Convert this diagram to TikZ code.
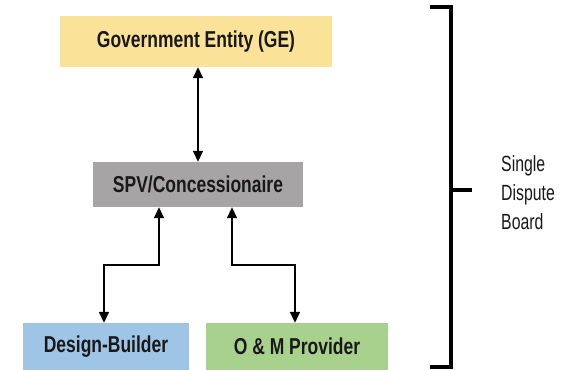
\documentclass[tikz,border=0pt]{standalone}
\usepackage{fontspec}
\usetikzlibrary{arrows.meta}
\newfontfamily\narrowbold[FakeStretch=0.76]{Liberation Sans Bold}
\newfontfamily\narrowreg[FakeStretch=0.72]{Liberation Sans}
\definecolor{geyellow}{RGB}{250,226,152}
\definecolor{spvgray}{RGB}{166,164,164}
\definecolor{dbblue}{RGB}{158,196,230}
\definecolor{omgreen}{RGB}{169,209,142}
\begin{document}
\begin{tikzpicture}[x=1pt,y=-1pt,
  party/.style={rectangle, inner sep=0pt, draw=none,
    font=\narrowbold\fontsize{23}{27}\selectfont, text=black!90},
  link/.style={line width=1.6pt, {Triangle[width=10pt,length=11pt]}-{Triangle[width=10pt,length=11pt]}},
  bracket/.style={line width=3.6pt, line cap=butt, line join=miter}]
  \useasboundingbox (0,0) rectangle (577,369);

  % parties
  \node[party, fill=geyellow, minimum width=272pt, minimum height=51pt] (ge) at (196,41.5) {Government Entity (GE)};
  \node[party, fill=spvgray, minimum width=210pt, minimum height=45pt] (spv) at (198,184.5) {SPV/Concessionaire};
  \node[party, fill=dbblue, minimum width=166pt, minimum height=47pt] (db) at (106,346.5) {Design-Builder};
  \node[party, fill=omgreen, minimum width=182pt, minimum height=47pt] (om) at (297,346.5) {O \& M Provider};

  % bends of the lower connectors
  \coordinate (lup) at (159,265);
  \coordinate (ldn) at (104,265);
  \coordinate (rup) at (232,265);
  \coordinate (rdn) at (295,265);

  % contractual links
  \draw[link] (spv.north |- ge.south) -- (spv.north);
  \draw[link] (spv.south -| lup) -- (lup) -- (ldn) -- (db.north -| ldn);
  \draw[link] (spv.south -| rup) -- (rup) -- (rdn) -- (om.north -| rdn);

  % brace spanning all parties
  \coordinate (btop) at (430,7);
  \coordinate (bbot) at (430,367);
  \coordinate (btip) at (472,190);
  \draw[bracket] (btop) -- (451,7) -- (451,367) -- (bbot);
  \draw[bracket] (451,190) -- (btip);

  \node[anchor=west, inner sep=0pt, align=left, text=black!90,
        font=\narrowreg\fontsize{22}{29}\selectfont] (sdb) at (501,193)
        {Single\\Dispute\\Board};
\end{tikzpicture}
\end{document}
